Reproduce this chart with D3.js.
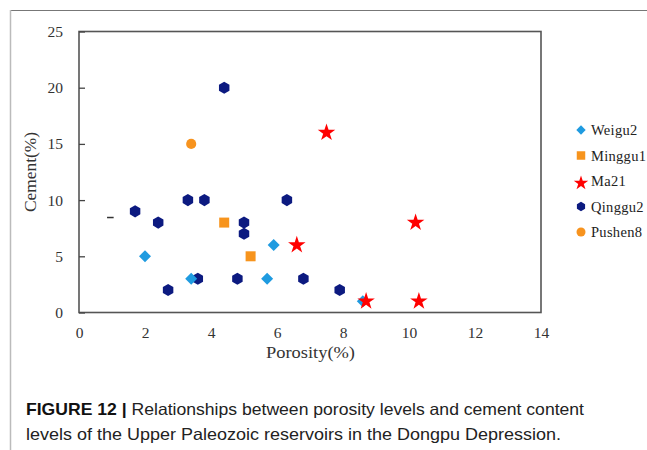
<!DOCTYPE html>
<html>
<head>
<meta charset="utf-8">
<script src="https://cdn.jsdelivr.net/npm/d3@7"></script>
<style>
  html, body { margin: 0; padding: 0; background: #fff; }
  svg { display: block; }
</style>
</head>
<body>
<svg id="chart" width="647" height="450"></svg>
<script>
// ---- data ----
const seriesNames = ["Weigu2", "Minggu1", "Ma21", "Qinggu2", "Pushen8"];
const weigu2  = [[2.0, 5], [3.4, 3], [5.9, 6], [5.7, 3], [8.6, 1]];
const minggu1 = [[4.4, 8], [5.2, 5]];
const ma21    = [[6.6, 6], [7.5, 16], [10.2, 8], [8.7, 1], [10.3, 1]];
const qinggu2 = [[4.4, 20], [1.7, 9], [2.4, 8], [3.3, 10], [3.8, 10], [5.0, 8], [5.0, 7],
                 [6.3, 10], [2.7, 2], [3.6, 3], [4.8, 3], [6.8, 3], [7.9, 2]];
const pushen8 = [[3.4, 15]];
const xTicks = [0, 2, 4, 6, 8, 10, 12, 14];
const yTicks = [0, 5, 10, 15, 20, 25];
const xTitle = "Porosity(%)";
const yTitle = "Cement(%)";
const captionBold = "FIGURE 12 |";
const captionLine1 = " Relationships between porosity levels and cement content";
const captionLine2 = "levels of the Upper Paleozoic reservoirs in the Dongpu Depression.";

// ---- setup ----
const svg = d3.select("#chart");
const x = d3.scaleLinear().domain([0, 14]).range([79, 541]);
const y = d3.scaleLinear().domain([0, 25]).range([312.5, 31.5]);
const serif = "'Liberation Serif', 'Times New Roman', serif";

// outer frame lines
svg.append("line").attr("x1", 10).attr("x2", 647).attr("y1", 10.5).attr("y2", 10.5)
  .attr("stroke", "#777").attr("stroke-width", 1.2);
svg.append("line").attr("x1", 10.5).attr("x2", 10.5).attr("y1", 10).attr("y2", 450)
  .attr("stroke", "#bbb").attr("stroke-width", 1.5);

// plot box
svg.append("rect")
  .attr("x", x(0)).attr("y", y(25))
  .attr("width", x(14) - x(0)).attr("height", y(0) - y(25))
  .attr("fill", "none").attr("stroke", "#555").attr("stroke-width", 1.6);

// y axis ticks (inward) + labels
const yAxis = d3.axisLeft(y).tickValues(yTicks).tickSize(-6).tickPadding(16);
const gy = svg.append("g").attr("transform", `translate(${x(0)},0)`).call(yAxis);
gy.select(".domain").remove();
gy.selectAll(".tick line").attr("stroke", "#444").attr("stroke-width", 1.3);
gy.selectAll(".tick text").attr("font-family", serif).attr("font-size", 15.5).attr("fill", "#333");

// x axis labels
const xAxis = d3.axisBottom(x).tickValues(xTicks).tickSize(0).tickPadding(14);
const gx = svg.append("g").attr("transform", `translate(0,${y(0)})`).call(xAxis);
gx.select(".domain").remove();
gx.selectAll(".tick text").attr("font-family", serif).attr("font-size", 15.5).attr("fill", "#333");

// stray tick mark seen in the figure
svg.append("line")
  .attr("x1", x(0.85)).attr("x2", x(1.05)).attr("y1", y(8.45)).attr("y2", y(8.45))
  .attr("stroke", "#333").attr("stroke-width", 1.5);

// titles
svg.append("text").attr("x", (x(0) + x(14)) / 2 - 44).attr("y", 358)
  .attr("font-family", serif).attr("font-size", 16)
  .attr("fill", "#333").attr("textLength", 89).attr("lengthAdjust", "spacingAndGlyphs").text(xTitle);
svg.append("text")
  .attr("transform", `translate(36,${(y(0) + y(25)) / 2 + 40}) rotate(-90)`)
  .attr("font-family", serif).attr("font-size", 16)
  .attr("fill", "#333").attr("textLength", 80).attr("lengthAdjust", "spacingAndGlyphs").text(yTitle);

// symbols
const hexagon = {
  draw(ctx, size) {
    const r = Math.sqrt(size / (1.5 * Math.sqrt(3)));
    for (let i = 0; i < 6; i++) {
      const a = Math.PI / 6 + i * Math.PI / 3;
      const px = r * Math.cos(a), py = r * Math.sin(a);
      if (i === 0) ctx.moveTo(px, py); else ctx.lineTo(px, py);
    }
    ctx.closePath();
  }
};
const diamond = {
  draw(ctx, size) {
    const h = Math.sqrt(size / 2);
    ctx.moveTo(0, -h); ctx.lineTo(h, 0); ctx.lineTo(0, h); ctx.lineTo(-h, 0); ctx.closePath();
  }
};
const series = [
  { name: "Weigu2",  data: weigu2,  type: diamond,          color: "#1f9be0", size: 72,  lsize: 44 },
  { name: "Minggu1", data: minggu1, type: d3.symbolSquare,  color: "#f7941d", size: 100, lsize: 72 },
  { name: "Ma21",    data: ma21,    type: d3.symbolStar,    color: "#ff0000", size: 95,  lsize: 65 },
  { name: "Qinggu2", data: qinggu2, type: hexagon,          color: "#0c1a80", size: 95,  lsize: 58 },
  { name: "Pushen8", data: pushen8, type: d3.symbolCircle,  color: "#f7931e", size: 80,  lsize: 64 }
];

// draw so that Ma21 stars sit above others like the figure
const drawOrder = ["Qinggu2", "Pushen8", "Minggu1", "Weigu2", "Ma21"];
drawOrder.forEach(n => {
  const s = series.find(d => d.name === n);
  svg.append("g").selectAll("path").data(s.data).join("path")
    .attr("transform", d => `translate(${x(d[0])},${y(d[1])})`)
    .attr("d", d3.symbol().type(s.type).size(s.size))
    .attr("fill", s.color);
});

// legend
const legendY = d3.scalePoint().domain(seriesNames).range([130, 232]);
const lg = svg.append("g");
series.forEach(s => {
  const yy = legendY(s.name);
  lg.append("path").attr("transform", `translate(581,${yy + (s.name === "Ma21" ? 2 : 0)})`)
    .attr("d", d3.symbol().type(s.type).size(s.lsize)).attr("fill", s.color);
  lg.append("text").attr("x", 591).attr("y", yy + 5)
    .attr("font-family", serif).attr("font-size", 14.5).attr("fill", "#222")
    .attr("letter-spacing", 0.3).text(s.name);
});

// caption
const sans = "'Liberation Sans', Arial, sans-serif";
const t1 = svg.append("text").attr("x", 26).attr("y", 415)
  .attr("font-family", sans).attr("font-size", 16.5).attr("fill", "#222")
  .attr("textLength", 558).attr("lengthAdjust", "spacingAndGlyphs");
t1.append("tspan").attr("font-weight", "bold").attr("fill", "#111").text(captionBold);
t1.append("tspan").text(captionLine1);
svg.append("text").attr("x", 26).attr("y", 440)
  .attr("font-family", sans).attr("font-size", 16.5).attr("fill", "#222")
  .attr("textLength", 535).attr("lengthAdjust", "spacingAndGlyphs")
  .text(captionLine2);
</script>
</body>
</html>
